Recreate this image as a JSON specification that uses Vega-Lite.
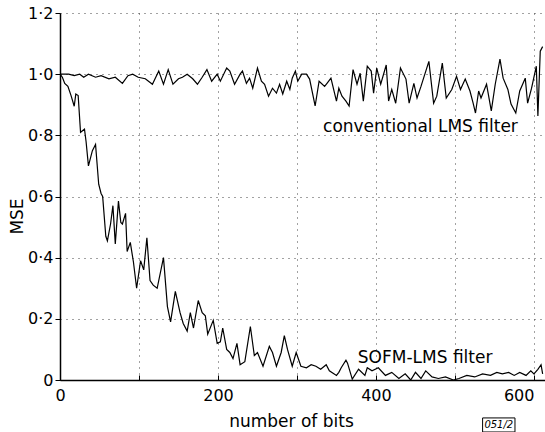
{
  "$schema": "https://vega.github.io/schema/vega-lite/v6.json",
  "width": 485,
  "height": 367,
  "autosize": {"type": "none"},
  "padding": {"left": 60, "top": 13, "right": 0, "bottom": 52},
  "background": "white",
  "config": {
    "view": {"stroke": null},
    "font": "DejaVu Sans",
    "axis": {
      "domainColor": "black",
      "domainWidth": 1.5,
      "tickColor": "black",
      "labelColor": "black",
      "titleColor": "black",
      "labelFont": "DejaVu Sans",
      "titleFont": "DejaVu Sans",
      "labelFontSize": 16,
      "titleFontSize": 17,
      "titleFontWeight": "normal",
      "gridColor": "#444",
      "gridDash": [1, 5],
      "gridWidth": 1
    }
  },
  "layer": [
    {
      "data": {"values": [
        {"series": "conv", "x": 0, "y": 1.0}, {"series": "conv", "x": 5, "y": 1.0}, {"series": "conv", "x": 11, "y": 1.0},
        {"series": "conv", "x": 18, "y": 0.995}, {"series": "conv", "x": 25, "y": 1.0}, {"series": "conv", "x": 30, "y": 0.99},
        {"series": "conv", "x": 36, "y": 1.0}, {"series": "conv", "x": 45, "y": 0.99}, {"series": "conv", "x": 52, "y": 0.995},
        {"series": "conv", "x": 62, "y": 0.985}, {"series": "conv", "x": 70, "y": 0.99}, {"series": "conv", "x": 79, "y": 0.97},
        {"series": "conv", "x": 86, "y": 0.995}, {"series": "conv", "x": 92, "y": 1.0}, {"series": "conv", "x": 99, "y": 0.99},
        {"series": "conv", "x": 108, "y": 0.985}, {"series": "conv", "x": 117, "y": 0.967}, {"series": "conv", "x": 125, "y": 1.01},
        {"series": "conv", "x": 131, "y": 0.967}, {"series": "conv", "x": 137, "y": 1.015}, {"series": "conv", "x": 143, "y": 0.967},
        {"series": "conv", "x": 150, "y": 0.985}, {"series": "conv", "x": 155, "y": 0.99}, {"series": "conv", "x": 161, "y": 1.0},
        {"series": "conv", "x": 168, "y": 0.985}, {"series": "conv", "x": 174, "y": 0.967}, {"series": "conv", "x": 180, "y": 0.99},
        {"series": "conv", "x": 186, "y": 1.015}, {"series": "conv", "x": 192, "y": 0.977}, {"series": "conv", "x": 199, "y": 1.0},
        {"series": "conv", "x": 203, "y": 0.977}, {"series": "conv", "x": 211, "y": 1.02}, {"series": "conv", "x": 215, "y": 1.01},
        {"series": "conv", "x": 221, "y": 0.967}, {"series": "conv", "x": 228, "y": 1.0}, {"series": "conv", "x": 231, "y": 1.01},
        {"series": "conv", "x": 236, "y": 0.97}, {"series": "conv", "x": 240, "y": 0.987}, {"series": "conv", "x": 244, "y": 0.954},
        {"series": "conv", "x": 250, "y": 1.02}, {"series": "conv", "x": 255, "y": 0.977}, {"series": "conv", "x": 259, "y": 0.967},
        {"series": "conv", "x": 264, "y": 0.928}, {"series": "conv", "x": 269, "y": 0.954}, {"series": "conv", "x": 274, "y": 0.938},
        {"series": "conv", "x": 278, "y": 0.967}, {"series": "conv", "x": 282, "y": 0.935}, {"series": "conv", "x": 287, "y": 0.977},
        {"series": "conv", "x": 291, "y": 0.95}, {"series": "conv", "x": 294, "y": 0.987}, {"series": "conv", "x": 298, "y": 1.01},
        {"series": "conv", "x": 301, "y": 0.977}, {"series": "conv", "x": 306, "y": 1.0}, {"series": "conv", "x": 312, "y": 1.0},
        {"series": "conv", "x": 316, "y": 0.984}, {"series": "conv", "x": 323, "y": 0.896}, {"series": "conv", "x": 328, "y": 0.977},
        {"series": "conv", "x": 335, "y": 0.96}, {"series": "conv", "x": 338, "y": 0.97}, {"series": "conv", "x": 343, "y": 0.987},
        {"series": "conv", "x": 350, "y": 0.912}, {"series": "conv", "x": 353, "y": 0.954}, {"series": "conv", "x": 357, "y": 0.928},
        {"series": "conv", "x": 362, "y": 0.912}, {"series": "conv", "x": 366, "y": 0.896}, {"series": "conv", "x": 371, "y": 1.015},
        {"series": "conv", "x": 376, "y": 0.967}, {"series": "conv", "x": 380, "y": 1.003}, {"series": "conv", "x": 384, "y": 0.912},
        {"series": "conv", "x": 389, "y": 1.026}, {"series": "conv", "x": 394, "y": 1.01}, {"series": "conv", "x": 397, "y": 0.938},
        {"series": "conv", "x": 401, "y": 1.02}, {"series": "conv", "x": 406, "y": 0.967}, {"series": "conv", "x": 413, "y": 1.03},
        {"series": "conv", "x": 416, "y": 0.912}, {"series": "conv", "x": 420, "y": 0.95}, {"series": "conv", "x": 425, "y": 0.905},
        {"series": "conv", "x": 431, "y": 1.02}, {"series": "conv", "x": 438, "y": 0.984}, {"series": "conv", "x": 442, "y": 0.905},
        {"series": "conv", "x": 448, "y": 0.97}, {"series": "conv", "x": 452, "y": 0.922}, {"series": "conv", "x": 457, "y": 0.96},
        {"series": "conv", "x": 467, "y": 1.042}, {"series": "conv", "x": 473, "y": 0.905}, {"series": "conv", "x": 477, "y": 0.928},
        {"series": "conv", "x": 484, "y": 1.036}, {"series": "conv", "x": 489, "y": 0.922}, {"series": "conv", "x": 496, "y": 0.95},
        {"series": "conv", "x": 502, "y": 0.993}, {"series": "conv", "x": 507, "y": 0.95}, {"series": "conv", "x": 513, "y": 0.984},
        {"series": "conv", "x": 519, "y": 0.945}, {"series": "conv", "x": 523, "y": 0.905}, {"series": "conv", "x": 526, "y": 0.873},
        {"series": "conv", "x": 530, "y": 0.945}, {"series": "conv", "x": 533, "y": 0.922}, {"series": "conv", "x": 540, "y": 0.967},
        {"series": "conv", "x": 546, "y": 0.88}, {"series": "conv", "x": 551, "y": 0.967}, {"series": "conv", "x": 557, "y": 1.049},
        {"series": "conv", "x": 561, "y": 0.987}, {"series": "conv", "x": 567, "y": 0.95}, {"series": "conv", "x": 571, "y": 0.902},
        {"series": "conv", "x": 577, "y": 0.873}, {"series": "conv", "x": 582, "y": 0.945}, {"series": "conv", "x": 589, "y": 0.987},
        {"series": "conv", "x": 592, "y": 0.905}, {"series": "conv", "x": 597, "y": 0.954}, {"series": "conv", "x": 603, "y": 1.026},
        {"series": "conv", "x": 605, "y": 0.863}, {"series": "conv", "x": 608, "y": 1.075}, {"series": "conv", "x": 611, "y": 1.09},

        {"series": "sofm", "x": 0, "y": 1.0}, {"series": "sofm", "x": 3, "y": 0.99}, {"series": "sofm", "x": 6, "y": 0.97},
        {"series": "sofm", "x": 10, "y": 0.96}, {"series": "sofm", "x": 14, "y": 0.93}, {"series": "sofm", "x": 18, "y": 0.895},
        {"series": "sofm", "x": 20, "y": 0.935}, {"series": "sofm", "x": 23, "y": 0.93}, {"series": "sofm", "x": 26, "y": 0.81},
        {"series": "sofm", "x": 31, "y": 0.82}, {"series": "sofm", "x": 33, "y": 0.78}, {"series": "sofm", "x": 36, "y": 0.7},
        {"series": "sofm", "x": 41, "y": 0.75}, {"series": "sofm", "x": 45, "y": 0.77}, {"series": "sofm", "x": 49, "y": 0.64},
        {"series": "sofm", "x": 52, "y": 0.61}, {"series": "sofm", "x": 54, "y": 0.6}, {"series": "sofm", "x": 58, "y": 0.47},
        {"series": "sofm", "x": 60, "y": 0.455}, {"series": "sofm", "x": 64, "y": 0.51}, {"series": "sofm", "x": 67, "y": 0.57},
        {"series": "sofm", "x": 70, "y": 0.445}, {"series": "sofm", "x": 74, "y": 0.585}, {"series": "sofm", "x": 77, "y": 0.515},
        {"series": "sofm", "x": 79, "y": 0.51}, {"series": "sofm", "x": 83, "y": 0.545}, {"series": "sofm", "x": 85, "y": 0.42},
        {"series": "sofm", "x": 89, "y": 0.45}, {"series": "sofm", "x": 93, "y": 0.385}, {"series": "sofm", "x": 97, "y": 0.3},
        {"series": "sofm", "x": 102, "y": 0.39}, {"series": "sofm", "x": 106, "y": 0.36}, {"series": "sofm", "x": 110, "y": 0.465},
        {"series": "sofm", "x": 114, "y": 0.325}, {"series": "sofm", "x": 118, "y": 0.31}, {"series": "sofm", "x": 123, "y": 0.3},
        {"series": "sofm", "x": 131, "y": 0.4}, {"series": "sofm", "x": 136, "y": 0.24}, {"series": "sofm", "x": 140, "y": 0.19},
        {"series": "sofm", "x": 146, "y": 0.29}, {"series": "sofm", "x": 152, "y": 0.22}, {"series": "sofm", "x": 156, "y": 0.185},
        {"series": "sofm", "x": 161, "y": 0.16}, {"series": "sofm", "x": 165, "y": 0.22}, {"series": "sofm", "x": 169, "y": 0.17},
        {"series": "sofm", "x": 175, "y": 0.26}, {"series": "sofm", "x": 180, "y": 0.22}, {"series": "sofm", "x": 184, "y": 0.21},
        {"series": "sofm", "x": 187, "y": 0.15}, {"series": "sofm", "x": 194, "y": 0.195}, {"series": "sofm", "x": 199, "y": 0.12},
        {"series": "sofm", "x": 203, "y": 0.125}, {"series": "sofm", "x": 206, "y": 0.17}, {"series": "sofm", "x": 211, "y": 0.1},
        {"series": "sofm", "x": 215, "y": 0.09}, {"series": "sofm", "x": 219, "y": 0.07}, {"series": "sofm", "x": 224, "y": 0.12},
        {"series": "sofm", "x": 228, "y": 0.05}, {"series": "sofm", "x": 234, "y": 0.06}, {"series": "sofm", "x": 241, "y": 0.175},
        {"series": "sofm", "x": 246, "y": 0.08}, {"series": "sofm", "x": 250, "y": 0.09}, {"series": "sofm", "x": 257, "y": 0.045},
        {"series": "sofm", "x": 265, "y": 0.11}, {"series": "sofm", "x": 269, "y": 0.09}, {"series": "sofm", "x": 274, "y": 0.045},
        {"series": "sofm", "x": 280, "y": 0.09}, {"series": "sofm", "x": 284, "y": 0.145}, {"series": "sofm", "x": 288, "y": 0.1},
        {"series": "sofm", "x": 294, "y": 0.045}, {"series": "sofm", "x": 299, "y": 0.09}, {"series": "sofm", "x": 305, "y": 0.045},
        {"series": "sofm", "x": 312, "y": 0.04}, {"series": "sofm", "x": 318, "y": 0.05}, {"series": "sofm", "x": 324, "y": 0.045},
        {"series": "sofm", "x": 330, "y": 0.035}, {"series": "sofm", "x": 337, "y": 0.05}, {"series": "sofm", "x": 341, "y": 0.03},
        {"series": "sofm", "x": 350, "y": 0.015}, {"series": "sofm", "x": 353, "y": 0.025}, {"series": "sofm", "x": 356, "y": 0.04},
        {"series": "sofm", "x": 362, "y": 0.065}, {"series": "sofm", "x": 364, "y": 0.055}, {"series": "sofm", "x": 370, "y": 0.003},
        {"series": "sofm", "x": 378, "y": 0.035}, {"series": "sofm", "x": 386, "y": 0.015}, {"series": "sofm", "x": 389, "y": 0.04},
        {"series": "sofm", "x": 395, "y": 0.03}, {"series": "sofm", "x": 403, "y": 0.04}, {"series": "sofm", "x": 412, "y": 0.015},
        {"series": "sofm", "x": 420, "y": 0.025}, {"series": "sofm", "x": 429, "y": 0.005}, {"series": "sofm", "x": 437, "y": 0.02},
        {"series": "sofm", "x": 444, "y": 0.0}, {"series": "sofm", "x": 450, "y": 0.025}, {"series": "sofm", "x": 457, "y": 0.005},
        {"series": "sofm", "x": 463, "y": 0.03}, {"series": "sofm", "x": 471, "y": 0.01}, {"series": "sofm", "x": 479, "y": 0.005},
        {"series": "sofm", "x": 488, "y": 0.01}, {"series": "sofm", "x": 498, "y": 0.0}, {"series": "sofm", "x": 505, "y": 0.005},
        {"series": "sofm", "x": 515, "y": 0.015}, {"series": "sofm", "x": 525, "y": 0.01}, {"series": "sofm", "x": 535, "y": 0.02},
        {"series": "sofm", "x": 545, "y": 0.015}, {"series": "sofm", "x": 553, "y": 0.025}, {"series": "sofm", "x": 560, "y": 0.02},
        {"series": "sofm", "x": 568, "y": 0.025}, {"series": "sofm", "x": 575, "y": 0.015}, {"series": "sofm", "x": 582, "y": 0.025},
        {"series": "sofm", "x": 590, "y": 0.015}, {"series": "sofm", "x": 596, "y": 0.03}, {"series": "sofm", "x": 600, "y": 0.02},
        {"series": "sofm", "x": 605, "y": 0.035}, {"series": "sofm", "x": 609, "y": 0.05}, {"series": "sofm", "x": 611, "y": 0.02}
      ]},
      "mark": {"type": "line", "strokeWidth": 1.2, "color": "black", "clip": true},
      "encoding": {
        "x": {
          "field": "x", "type": "quantitative",
          "scale": {"domain": [0, 614], "nice": false, "zero": false},
          "axis": {
            "title": "number of bits",
            "values": [0, 100, 200, 300, 400, 500, 600],
            "labelExpr": "datum.value % 200 == 0 ? datum.label : ''",
            "labelAlign": {"expr": "datum.value == 600 ? 'right' : 'center'"},
            "format": "d",
            "grid": true,
            "tickSize": -5,
            "labelPadding": 12,
            "titleX": 231,
            "titleY": 33,
            "titleBaseline": "top"
          }
        },
        "y": {
          "field": "y", "type": "quantitative",
          "scale": {"domain": [0, 1.2], "nice": false},
          "axis": {
            "title": "MSE",
            "values": [0, 0.2, 0.4, 0.6, 0.8, 1.0, 1.2],
            "labelExpr": "datum.value == 0 ? '0' : replace(format(datum.value, '.1f'), '.', '·')",
            "grid": true,
            "tickSize": 5,
            "labelPadding": 2,
            "titleAngle": -90,
            "titleX": -43,
            "titleY": 203,
            "titleAlign": "center",
            "titleBaseline": "middle"
          }
        },
        "detail": {"field": "series", "type": "nominal"}
      }
    },
    {
      "data": {"values": [
        {"label": "conventional LMS filter", "x": 333, "y": 0.811},
        {"label": "SOFM-LMS filter", "x": 377, "y": 0.056}
      ]},
      "mark": {"type": "text", "align": "left", "baseline": "alphabetic", "font": "DejaVu Sans", "fontSize": 17, "color": "black"},
      "encoding": {
        "x": {"field": "x", "type": "quantitative"},
        "y": {"field": "y", "type": "quantitative"},
        "text": {"field": "label"}
      }
    },
    {
      "data": {"values": [{"x1": 535, "x2": 576, "y1": -0.124, "y2": -0.17}]},
      "mark": {"type": "rect", "fill": null, "stroke": "black", "strokeWidth": 1},
      "encoding": {
        "x": {"field": "x1", "type": "quantitative"},
        "x2": {"field": "x2"},
        "y": {"field": "y1", "type": "quantitative"},
        "y2": {"field": "y2"}
      }
    },
    {
      "data": {"values": [{"label": "051/2", "x": 555.5, "y": -0.147}]},
      "mark": {"type": "text", "align": "center", "baseline": "middle", "font": "DejaVu Sans", "fontSize": 10, "fontStyle": "italic", "color": "black"},
      "encoding": {
        "x": {"field": "x", "type": "quantitative"},
        "y": {"field": "y", "type": "quantitative"},
        "text": {"field": "label"}
      }
    }
  ]
}
